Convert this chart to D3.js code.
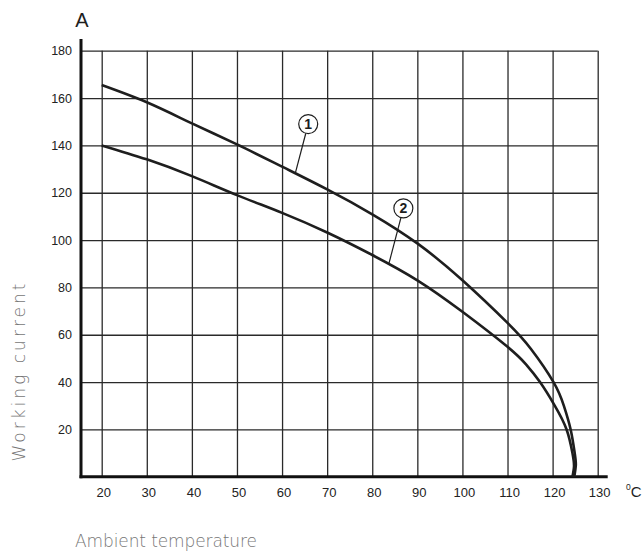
<!DOCTYPE html>
<html>
<head>
<meta charset="utf-8">
<script src="https://cdn.jsdelivr.net/npm/d3@7"></script>
<style>
  html, body { margin: 0; padding: 0; background: #fff; }
  svg { display: block; }
</style>
</head>
<body>
<svg id="chart" width="644" height="553"></svg>
<script>
// ---- data ----
const xTicks = [20, 30, 40, 50, 60, 70, 80, 90, 100, 110, 120, 130];
const yTicks = [20, 40, 60, 80, 100, 120, 140, 160, 180];
// curve 1 (upper): [temperature °C, current A]
const curve1Temp    = [20, 30, 40, 50, 60, 70, 80, 90, 100, 110, 115.2, 120.2, 122.5, 124, 124.9, 125.15, 124.8];
const curve1Current = [165.5, 158.2, 149.3, 140.4, 131, 121.4, 110.9, 98.6, 83, 65, 54, 40, 30, 20, 10, 5, 0];
// curve 2 (lower)
const curve2Temp    = [20, 30, 40, 50, 60, 70, 80, 90, 100, 110, 114.1, 117.2, 120.5, 123.1, 124.4, 124.75, 124.4];
const curve2Current = [140, 134.1, 127, 119, 111.5, 103.2, 93.7, 83, 69.7, 54.9, 47.5, 40, 30, 20, 10, 4.5, 0];
// labels
const labelNames = ["1", "2"];
const labelPos   = [[65.8, 149], [86.9, 113.4]];
const labelTarget = [[62.9, 128], [83.7, 90.1]];

// ---- layout ----
const svg = d3.select("#chart");
const x = d3.scaleLinear().domain([20, 130]).range([101.7, 597.7]);
const y = d3.scaleLinear().domain([0, 180]).range([476.8, 50.7]);
const axisX0 = 81;       // y-axis line position
const axisXEnd = 607.7;  // end of x axis line
const gridRight = x(130);

const FONT = "'Liberation Sans', Arial, Helvetica, sans-serif";

// Y gridlines + labels
const gy = svg.append("g")
  .attr("transform", `translate(${axisX0},0)`)
  .call(d3.axisLeft(y).tickValues(yTicks).tickSize(-(gridRight - axisX0)).tickPadding(9).tickFormat(d3.format("d")));
gy.select(".domain").remove();
gy.selectAll(".tick line").attr("stroke", "#2a2a2a").attr("stroke-width", 1.3);
gy.selectAll(".tick text").attr("font-family", FONT).attr("font-size", 12.5).attr("fill", "#222");

// X gridlines + labels
const gx = svg.append("g")
  .attr("transform", `translate(0,${y(0)})`)
  .call(d3.axisBottom(x).tickValues(xTicks).tickSize(-(y(0) - y(180))).tickPadding(10.5).tickFormat(d3.format("d")));
gx.select(".domain").remove();
gx.selectAll(".tick line").attr("stroke", "#2a2a2a").attr("stroke-width", 1.3);
gx.selectAll(".tick text").attr("font-family", FONT).attr("font-size", 13).attr("fill", "#222").attr("dx", 1.5);

// Axis lines
svg.append("line").attr("x1", axisX0).attr("x2", axisX0).attr("y1", 39).attr("y2", y(0) + 1.5)
  .attr("stroke", "#111").attr("stroke-width", 3);
svg.append("line").attr("x1", axisX0 - 1.5).attr("x2", axisXEnd).attr("y1", y(0)).attr("y2", y(0))
  .attr("stroke", "#111").attr("stroke-width", 3);

// Curves
const line = d3.line().x(d => x(d[0])).y(d => y(d[1])).curve(d3.curveNatural);
const c1 = curve1Temp.map((t, i) => [t, curve1Current[i]]);
const c2 = curve2Temp.map((t, i) => [t, curve2Current[i]]);
[c1, c2].forEach(c => {
  svg.append("path").datum(c).attr("d", line)
    .attr("fill", "none").attr("stroke", "#1e1e1e").attr("stroke-width", 2.6).attr("stroke-linejoin", "round");
});

// Circled labels with leaders
labelNames.forEach((name, i) => {
  const cx = x(labelPos[i][0]), cy = y(labelPos[i][1]);
  const tx = x(labelTarget[i][0]), ty = y(labelTarget[i][1]);
  const r = 9.5;
  const ang = Math.atan2(ty - cy, tx - cx);
  svg.append("line")
    .attr("x1", cx + r * Math.cos(ang)).attr("y1", cy + r * Math.sin(ang))
    .attr("x2", tx).attr("y2", ty)
    .attr("stroke", "#1e1e1e").attr("stroke-width", 1.2);
  svg.append("circle").attr("cx", cx).attr("cy", cy).attr("r", r)
    .attr("fill", "#fff").attr("stroke", "#1e1e1e").attr("stroke-width", 1.2);
  svg.append("text").attr("x", cx).attr("y", cy).attr("dy", "0.36em")
    .attr("text-anchor", "middle").attr("font-family", FONT).attr("font-weight", "bold")
    .attr("font-size", 14).attr("fill", "#1e1e1e").text(name);
});

// Unit labels
svg.append("text").attr("x", axisX0 + 1).attr("y", 27.3).attr("text-anchor", "middle")
  .attr("font-family", FONT).attr("font-size", 20).attr("fill", "#1e1e1e").text("A");
const degC = svg.append("text").attr("x", 626).attr("y", 496.7)
  .attr("font-family", FONT).attr("font-size", 15).attr("fill", "#1e1e1e");
degC.append("tspan").attr("font-size", 8.5).attr("dy", -7).text("0");
degC.append("tspan").attr("dy", 7).text("C");

// Axis titles
svg.append("text")
  .attr("transform", "translate(25,372.5) rotate(-90)")
  .attr("text-anchor", "middle")
  .attr("font-family", "'DejaVu Sans', sans-serif").attr("font-weight", 300)
  .attr("font-size", 17).attr("fill", "#767676")
  .attr("textLength", 178).attr("lengthAdjust", "spacing")
  .text("Working current");
svg.append("text")
  .attr("x", 75).attr("y", 547)
  .attr("font-family", "'DejaVu Sans', sans-serif").attr("font-weight", 300)
  .attr("font-size", 17).attr("fill", "#767676")
  .attr("textLength", 182).attr("lengthAdjust", "spacing")
  .text("Ambient temperature");
</script>
</body>
</html>
